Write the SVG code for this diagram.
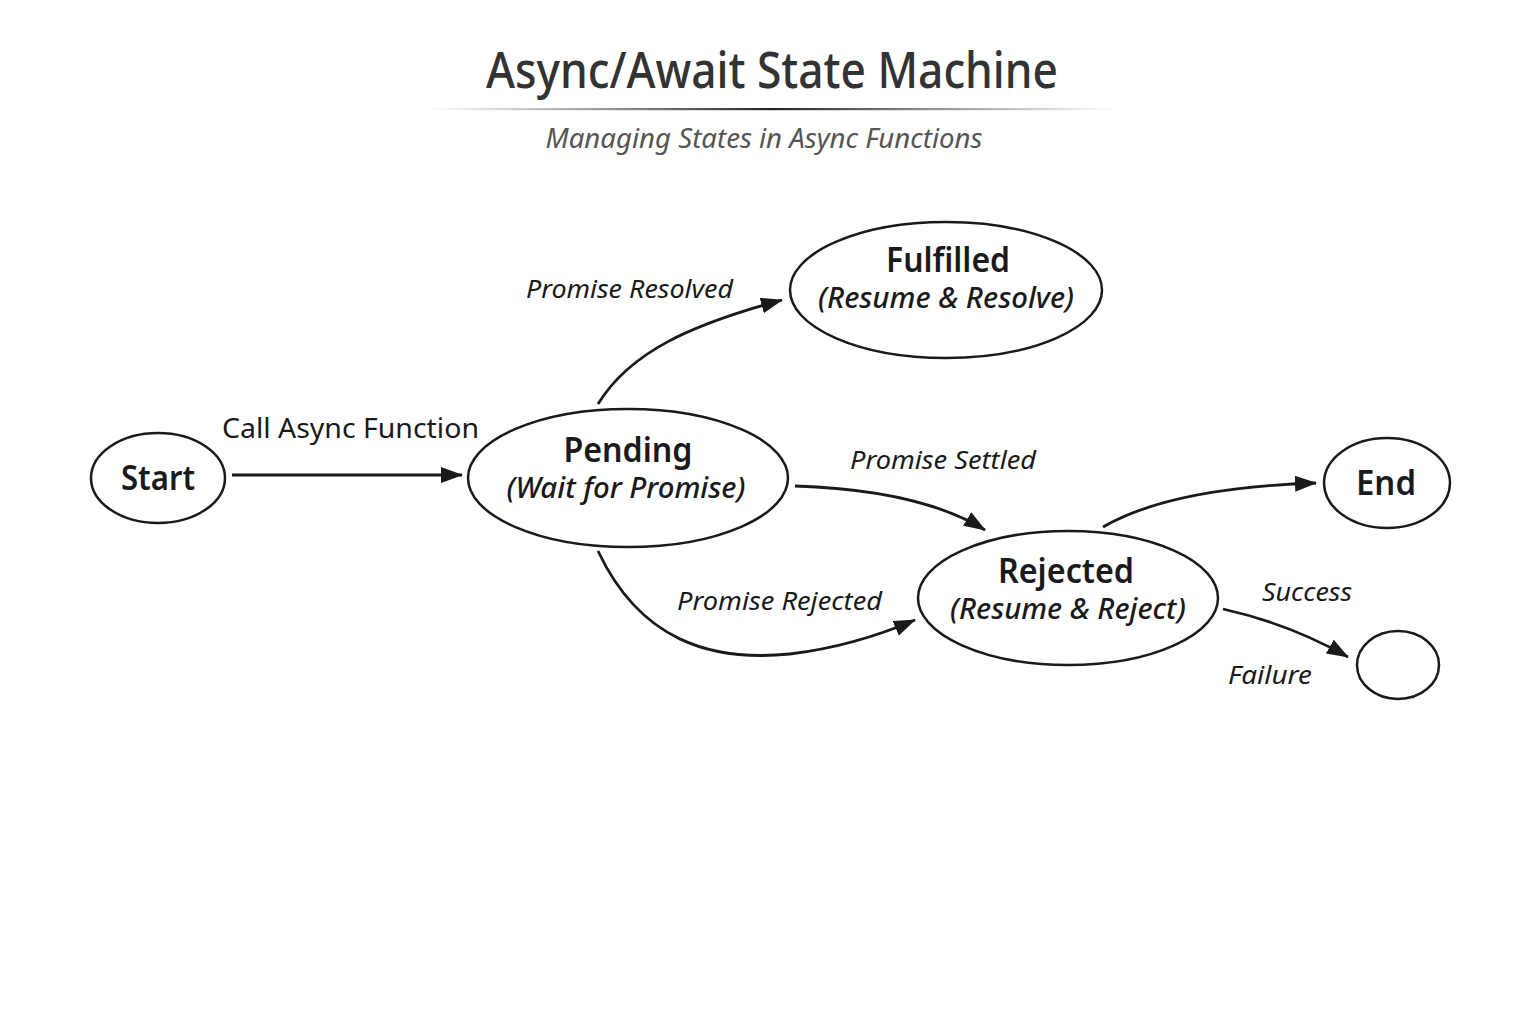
<svg xmlns="http://www.w3.org/2000/svg" width="1536" height="1024" viewBox="0 0 1536 1024">
  <defs>
    <linearGradient id="rule" x1="0" y1="0" x2="1" y2="0">
      <stop offset="0" stop-color="#444" stop-opacity="0"/>
      <stop offset="0.5" stop-color="#222" stop-opacity="1"/>
      <stop offset="1" stop-color="#444" stop-opacity="0"/>
    </linearGradient>
    <marker id="arr" viewBox="0 0 22 16" refX="21" refY="8" markerWidth="22" markerHeight="16" markerUnits="userSpaceOnUse" orient="auto">
      <path d="M0,0 L22,8 L0,16 Z" fill="#1a1a1a"/>
    </marker>
    <style>
      text { font-family: "Noto Sans", "Open Sans", "DejaVu Sans", sans-serif; fill: #1a1a1a; }
      .title { font-size: 50px; font-weight: 500; fill: #333; }
      .sub { font-size: 28px; font-style: italic; fill: #555; }
      .node { fill: #fff; stroke: #1a1a1a; stroke-width: 2.5; }
      .name { font-size: 35px; font-weight: 600; }
      .desc { font-size: 28px; font-weight: 500; font-style: italic; }
      .lbl { font-size: 28px; }
      .ilbl { font-size: 26px; font-style: italic; }
      .edge { fill: none; stroke: #1a1a1a; stroke-width: 2.8; marker-end: url(#arr); }
    </style>
  </defs>
  <rect width="1536" height="1024" fill="#fff"/>

  <g id="header">
    <text class="title" x="772" y="88" text-anchor="middle" textLength="572" lengthAdjust="spacingAndGlyphs">Async/Await State Machine</text>
    <rect x="428" y="108" width="690" height="2.2" fill="url(#rule)"/>
    <text class="sub" x="764" y="148" text-anchor="middle" textLength="437" lengthAdjust="spacingAndGlyphs">Managing States in Async Functions</text>
  </g>

  <g id="connectors">
    <path class="edge" d="M232,475 L462,475"/>
    <path class="edge" d="M598,404 C630,352 690,325 782,300"/>
    <path class="edge" d="M795,486 Q920,490 985,530"/>
    <path class="edge" d="M598,551 C640,640 710,662 790,654 C840,648 880,635 915,620"/>
    <path class="edge" d="M1103,527 Q1170,488 1316,483"/>
    <path class="edge" d="M1223,609 Q1290,624 1348,657"/>
    <text class="lbl" x="222" y="438" textLength="257" lengthAdjust="spacingAndGlyphs">Call Async Function</text>
    <text class="ilbl" x="526" y="298" textLength="207" lengthAdjust="spacingAndGlyphs">Promise Resolved</text>
    <text class="ilbl" x="850" y="469" textLength="186" lengthAdjust="spacingAndGlyphs">Promise Settled</text>
    <text class="ilbl" x="677" y="610" textLength="205" lengthAdjust="spacingAndGlyphs">Promise Rejected</text>
    <text class="ilbl" x="1262" y="601" textLength="90" lengthAdjust="spacingAndGlyphs">Success</text>
    <text class="ilbl" x="1228" y="684" textLength="84" lengthAdjust="spacingAndGlyphs">Failure</text>
  </g>

  <g id="start">
    <ellipse class="node" cx="158" cy="478" rx="67" ry="45"/>
    <text class="name" x="158" y="490" text-anchor="middle" textLength="74" lengthAdjust="spacingAndGlyphs">Start</text>
  </g>

  <g id="pending">
    <ellipse class="node" cx="628" cy="478" rx="160" ry="69"/>
    <text class="name" x="628" y="462" text-anchor="middle" textLength="129" lengthAdjust="spacingAndGlyphs">Pending</text>
    <text class="desc" x="626" y="498" text-anchor="middle" textLength="239" lengthAdjust="spacingAndGlyphs">(Wait for Promise)</text>
  </g>

  <g id="fulfilled">
    <ellipse class="node" cx="946" cy="290" rx="156" ry="68"/>
    <text class="name" x="948" y="272" text-anchor="middle" textLength="124" lengthAdjust="spacingAndGlyphs">Fulfilled</text>
    <text class="desc" x="946" y="308" text-anchor="middle" textLength="256" lengthAdjust="spacingAndGlyphs">(Resume &amp; Resolve)</text>
  </g>

  <g id="end">
    <ellipse class="node" cx="1387" cy="483" rx="63" ry="45"/>
    <text class="name" x="1386" y="495" text-anchor="middle" textLength="60" lengthAdjust="spacingAndGlyphs">End</text>
  </g>

  <g id="rejected">
    <ellipse class="node" cx="1068" cy="598" rx="150" ry="67"/>
    <text class="name" x="1066" y="583" text-anchor="middle" textLength="136" lengthAdjust="spacingAndGlyphs">Rejected</text>
    <text class="desc" x="1068" y="619" text-anchor="middle" textLength="236" lengthAdjust="spacingAndGlyphs">(Resume &amp; Reject)</text>
  </g>

  <g id="final">
    <ellipse class="node" cx="1398" cy="665" rx="41" ry="34"/>
  </g>
</svg>
